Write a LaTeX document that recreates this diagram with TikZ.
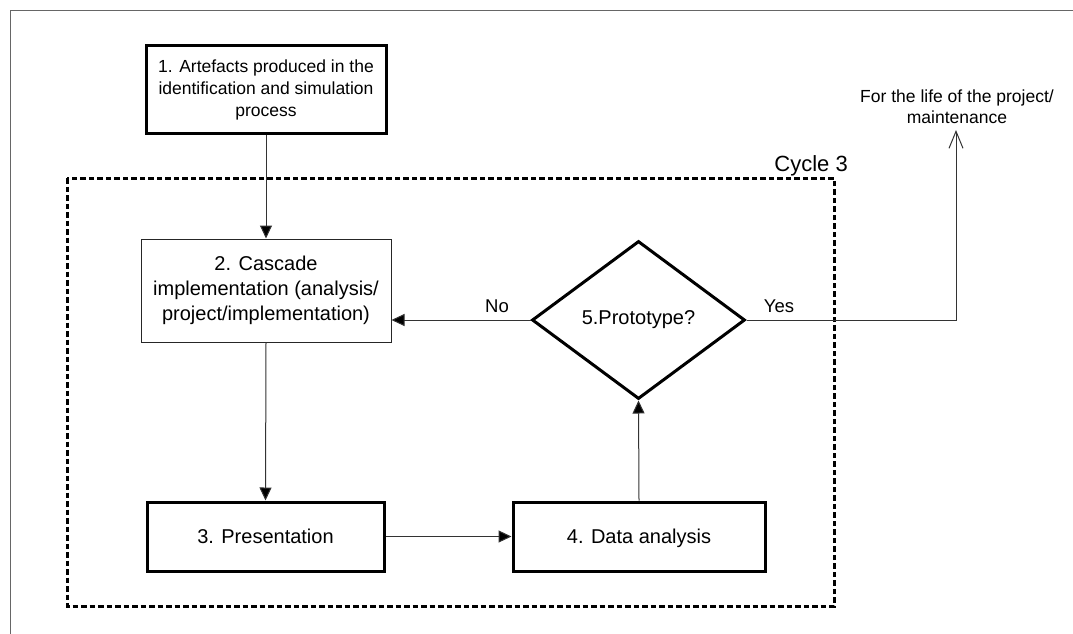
\documentclass[tikz,border=0pt]{standalone}
\usepackage{fontspec}
\setmainfont{Liberation Sans}
\usetikzlibrary{shapes.geometric,arrows.meta}
\tikzset{
  thickbox/.style={draw=black,line width=3pt,rectangle,inner sep=0pt,align=center},
  thinbox/.style={draw=black!85,line width=1pt,rectangle,inner sep=0pt,align=center},
  conn/.style={draw=black!80,line width=1pt,-{Triangle[length=13pt,width=12pt,fill=black]}},
  plainline/.style={draw=black!80,line width=1pt},
  txtA/.style={font=\fontsize{17.5}{22}\selectfont},
  txtB/.style={font=\fontsize{20}{25}\selectfont},
  oneline/.style={text height=14.5pt,text depth=0pt},
  lbl/.style={font=\fontsize{18.5}{22}\selectfont,inner sep=0pt},
  cyclebox/.style={draw=black,line width=3pt,dash pattern=on 5.5pt off 3pt},
}
\begin{document}
\begin{tikzpicture}[x=1pt,y=-1pt]
\useasboundingbox (0,0) rectangle (1073,634);
% outer frame (top and left edges)
\draw[black!60,line width=1.5pt] (1073,10.5) -- (10.5,10.5) -- (10.5,634);
% cycle box
\draw[cyclebox] (67,178) rectangle (834,606);
\node[anchor=base east,font=\fontsize{22}{26}\selectfont,inner sep=0pt] (cyc) at (848,171) {Cycle 3};
% nodes
\node[thickbox,txtA,minimum width=240pt,minimum height=87pt] (b1) at (266,89.5)
  {1. Artefacts produced in the\\identification and simulation\\process};
\node[thinbox,txtB,minimum width=250pt,minimum height=103pt] (b2) at (266,290.5)
  {2. Cascade\\implementation (analysis/\\project/implementation)};
\node[draw=black,line width=3pt,diamond,inner sep=0pt,minimum width=213pt,minimum height=158pt,txtB] (d) at (638.5,320)
  {5.Prototype?};
\node[thickbox,txtB,oneline,minimum width=237pt,minimum height=69pt] (b3) at (265.5,536.5) {3. Presentation};
\node[thickbox,txtB,oneline,minimum width=252pt,minimum height=69pt] (b4) at (639,536.5) {4. Data analysis};
\node[align=center,font=\fontsize{17.5}{21}\selectfont,inner sep=0pt] (life) at (957,107)
  {For the life of the project/\\maintenance};
\coordinate (top) at (956,130);
% connectors
\draw[conn] (b1.south) -- (b2.north);
\draw[conn] (b2.south) -- (b3.north);
\draw[conn] (b3.east) -- (b4.west);
\draw[conn] (b4.north) -- (d.south);
\draw[conn] (d.west) -- (d.west -| b2.east);
\draw[plainline,-{Straight Barb[length=17pt,width=14pt,line width=1pt]}] (d.east) -- (d.east -| top) -- (top);
% labels
\node[lbl] (no) at (497,306) {No};
\node[lbl] (yes) at (779,306) {Yes};
\end{tikzpicture}
\end{document}
